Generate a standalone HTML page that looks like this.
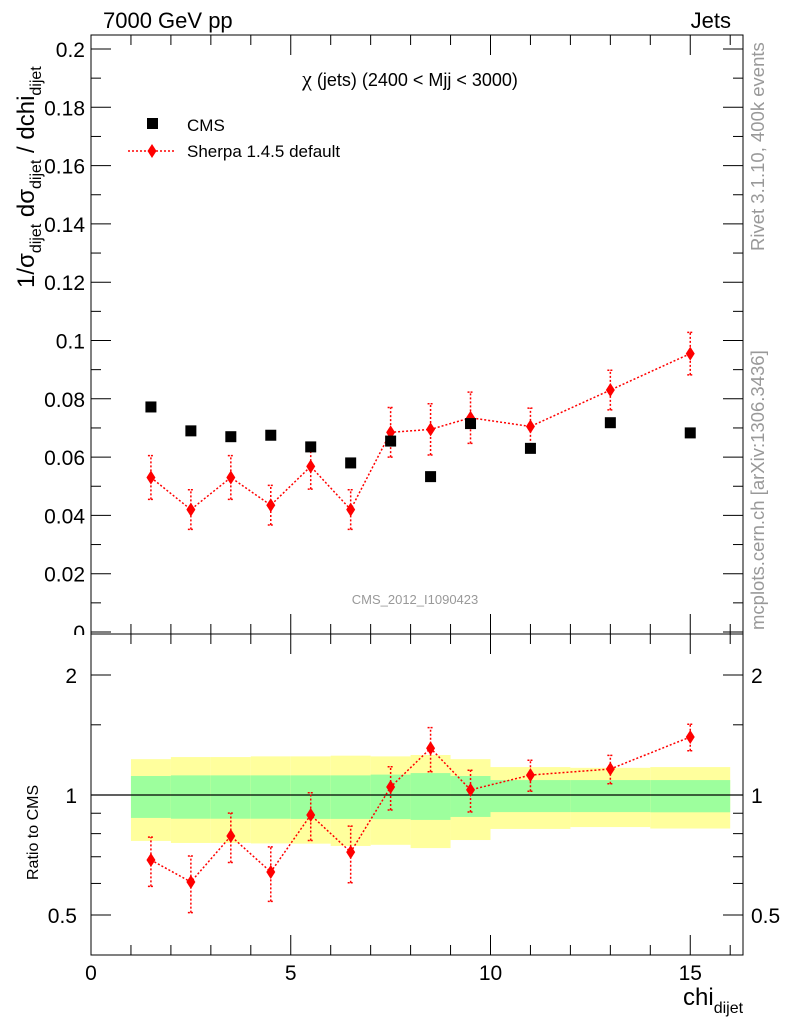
<!DOCTYPE html>
<html><head><meta charset="utf-8"><style>
body{margin:0;background:#fff;}
svg{display:block;font-family:"Liberation Sans",sans-serif;}
</style></head><body>
<svg id="c" width="786" height="1024">
<g id="g"></g>
</svg>
<script>
const xCenters=[1.5,2.5,3.5,4.5,5.5,6.5,7.5,8.5,9.5,11,13,15];
const binLo=[1,2,3,4,5,6,7,8,9,10,12,14];
const binHi=[2,3,4,5,6,7,8,9,10,12,14,16];
const cmsVals=[0.0772,0.069,0.067,0.0675,0.0635,0.058,0.0655,0.0533,0.0715,0.063,0.0718,0.0683];
const sherpaVals=[0.053,0.042,0.053,0.0435,0.0568,0.042,0.0685,0.0695,0.0735,0.0705,0.083,0.0955];
const sherpaErr=[0.0075,0.0068,0.0075,0.0068,0.0078,0.0068,0.0085,0.0088,0.0088,0.0063,0.0068,0.0073];
const ratioVals=[0.687,0.605,0.789,0.641,0.891,0.719,1.047,1.31,1.03,1.122,1.162,1.398];
const yellowTop=[1.23,1.245,1.245,1.25,1.25,1.255,1.25,1.26,1.23,1.175,1.17,1.175];
const greenTop=[1.116,1.12,1.12,1.12,1.12,1.12,1.125,1.135,1.116,1.09,1.09,1.09];
const greenBot=[0.876,0.872,0.872,0.872,0.871,0.871,0.87,0.866,0.881,0.906,0.906,0.905];
const yellowBot=[0.767,0.758,0.758,0.756,0.755,0.745,0.75,0.736,0.771,0.822,0.831,0.824];
const mainTicks=[0,0.02,0.04,0.06,0.08,0.1,0.12,0.14,0.16,0.18,0.2];
const mainTickLabels=["0","0.02","0.04","0.06","0.08","0.1","0.12","0.14","0.16","0.18","0.2"];
const ratioTicks=[0.5,1,2];
const ratioTickLabels=["0.5","1","2"];
const xTicks=[0,5,10,15];
const xTickLabels=["0","5","10","15"];

const L=91,R=743,T=35,MB=634,RB=955;
const X=v=>91+v*39.95;
const Y=v=>632-v*(583/0.2);
const YR=v=>795-Math.log2(v)*120;
const NS="http://www.w3.org/2000/svg";
const g=document.getElementById('g');
function el(tag,attrs,parent){const e=document.createElementNS(NS,tag);for(const k in attrs)e.setAttribute(k,attrs[k]);(parent||g).appendChild(e);return e;}
function txt(s,attrs,parent){const e=el('text',attrs,parent);e.textContent=s;return e;}

const bands=el('g',{});


for(let i=0;i<binLo.length;i++){
 const r1=el('rect',{x:X(binLo[i]),y:YR(yellowTop[i]),width:X(binHi[i])-X(binLo[i]),height:YR(yellowBot[i])-YR(yellowTop[i]),fill:'#ffff9d'},bands);
 
 
 const r2=el('rect',{x:X(binLo[i]),y:YR(greenTop[i]),width:X(binHi[i])-X(binLo[i]),height:YR(greenBot[i])-YR(greenTop[i]),fill:'#9dff9d'},bands);
 
 
}
el('line',{x1:L,x2:R,y1:YR(1),y2:YR(1),stroke:'#000','stroke-width':1.2});

// clip cover for "0" label below frame
const f1=el('rect',{x:L,y:T,width:R-L,height:MB-T,fill:'none',stroke:'#000','stroke-width':1});



mainTicks.forEach((v,i)=>{
 const y=Y(v);
 el('line',{x1:L,x2:L+20,y1:y,y2:y,stroke:'#000'});
 el('line',{x1:R,x2:R-20,y1:y,y2:y,stroke:'#000'});
 if(i<mainTicks.length-1){const ym=Y(v+0.01);el('line',{x1:L,x2:L+10,y1:ym,y2:ym,stroke:'#000'});el('line',{x1:R,x2:R-10,y1:ym,y2:ym,stroke:'#000'});}
 const t=txt(mainTickLabels[i],{x:L-6,y:y+8,'text-anchor':'end','font-size':21});
 
 
});
// white cover to clip the "0" like reference
el('rect',{x:60,y:MB+1,width:30,height:20,fill:'#fff'});
const f2=el('rect',{x:L,y:MB,width:R-L,height:RB-MB,fill:'none',stroke:'#000','stroke-width':1});



for(let v=0;v<=16;v+=1){
 const big=v%5===0;
 el('line',{x1:X(v),x2:X(v),y1:RB,y2:RB-(big?20:10),stroke:'#000'});
 el('line',{x1:X(v),x2:X(v),y1:MB,y2:MB-(big?20:10),stroke:'#000'});
 el('line',{x1:X(v),x2:X(v),y1:T,y2:T+(big?20:10),stroke:'#000'});
 el('line',{x1:X(v),x2:X(v),y1:MB,y2:MB+(big?20:10),stroke:'#000'});
}
xTicks.forEach((v,i)=>{
 const t=txt(xTickLabels[i],{x:X(v),y:980,'text-anchor':'middle','font-size':21});
 
 
});
ratioTicks.forEach((v,i)=>{
 const y=YR(v);
 el('line',{x1:L,x2:L+20,y1:y,y2:y,stroke:'#000'});
 el('line',{x1:R,x2:R-20,y1:y,y2:y,stroke:'#000'});
 const t=txt(ratioTickLabels[i],{x:L-14,y:y+8,'text-anchor':'end','font-size':21});
 
 
 const t2=txt(ratioTickLabels[i],{x:R+8,y:y+8,'font-size':21});
 
 
});
[0.6,0.7,0.8,0.9,1.5].forEach(v=>{el('line',{x1:L,x2:L+10,y1:YR(v),y2:YR(v),stroke:'#000'});el('line',{x1:R,x2:R-10,y1:YR(v),y2:YR(v),stroke:'#000'});});

const sp=el('g',{});


el('polyline',{points:xCenters.map((x,i)=>X(x)+','+Y(sherpaVals[i])).join(' '),fill:'none',stroke:'red','stroke-width':1.5,'stroke-dasharray':'2,2'},sp);
xCenters.forEach((x,i)=>{
 const cx=X(x),cy=Y(sherpaVals[i]);
 el('line',{x1:cx,x2:cx,y1:Y(sherpaVals[i]-sherpaErr[i]),y2:Y(sherpaVals[i]+sherpaErr[i]),stroke:'red','stroke-width':1.5,'stroke-dasharray':'2,2'},sp);
 [sherpaVals[i]-sherpaErr[i],sherpaVals[i]+sherpaErr[i]].forEach(v=>el('line',{x1:cx-3,x2:cx+3,y1:Y(v),y2:Y(v),stroke:'red','stroke-width':1.5,'stroke-dasharray':'2,1'},sp));
 const d=el('polygon',{points:`${cx},${cy-7} ${cx+4.5},${cy} ${cx},${cy+7} ${cx-4.5},${cy}`,fill:'red'},sp);
 
 
});
xCenters.forEach((x,i)=>{
 const r=el('rect',{x:X(x)-5.5,y:Y(cmsVals[i])-5.5,width:11,height:11,fill:'#000'});
 
 
});
const rp=el('g',{});


el('polyline',{points:xCenters.map((x,i)=>X(x)+','+YR(ratioVals[i])).join(' '),fill:'none',stroke:'red','stroke-width':1.5,'stroke-dasharray':'2,2'},rp);
xCenters.forEach((x,i)=>{
 const cx=X(x),r=ratioVals[i],e=r*sherpaErr[i]/sherpaVals[i];
 el('line',{x1:cx,x2:cx,y1:YR(r-e),y2:YR(r+e),stroke:'red','stroke-width':1.5,'stroke-dasharray':'2,2'},rp);
 [r-e,r+e].forEach(v=>el('line',{x1:cx-3,x2:cx+3,y1:YR(v),y2:YR(v),stroke:'red','stroke-width':1.5,'stroke-dasharray':'2,1'},rp));
 const d=el('polygon',{points:`${cx},${YR(r)-7} ${cx+4.5},${YR(r)} ${cx},${YR(r)+7} ${cx-4.5},${YR(r)}`,fill:'red'},rp);
 
 
});
</script>
<svg style="position:absolute;left:0;top:0" width="786" height="1024">
<text x="103" y="28" font-size="22">7000 GeV pp</text>
<text x="731" y="28" font-size="22" text-anchor="end">Jets</text>
<text x="410" y="86" font-size="18" text-anchor="middle"><tspan font-size="22" font-family="Liberation Serif">χ</tspan> (jets) (2400 &lt; Mjj &lt; 3000)</text>
<rect x="147" y="118" width="11" height="11" fill="#000"/>
<text x="187" y="131" font-size="17">CMS</text>
<line x1="128" y1="151" x2="176" y2="151" stroke="red" stroke-width="1.5" stroke-dasharray="2,2"/>
<polygon points="152,144 156.5,151 152,158 147.5,151" fill="red"/>
<text x="187" y="157" font-size="17">Sherpa 1.4.5 default</text>
<text x="415" y="604" font-size="13" fill="#999" text-anchor="middle">CMS_2012_I1090423</text>
<text transform="translate(34,288) rotate(-90)" font-size="24" text-anchor="start">1/σ<tspan font-size="16" dy="7">dijet</tspan><tspan dy="-7"> dσ</tspan><tspan font-size="16" dy="7">dijet</tspan><tspan dy="-7"> / dchi</tspan><tspan font-size="16" dy="7">dijet</tspan></text>
<text transform="translate(38,880) rotate(-90)" font-size="16">Ratio to CMS</text>
<text x="683" y="1005" font-size="24">chi<tspan font-size="16" dy="8">dijet</tspan></text>
<text transform="translate(764,251) rotate(-90)" font-size="18.5" fill="#999">Rivet 3.1.10,  400k events</text>
<text transform="translate(764,630) rotate(-90)" font-size="18.5" fill="#999">mcplots.cern.ch [arXiv:1306.3436]</text>
</svg>
</body></html>
